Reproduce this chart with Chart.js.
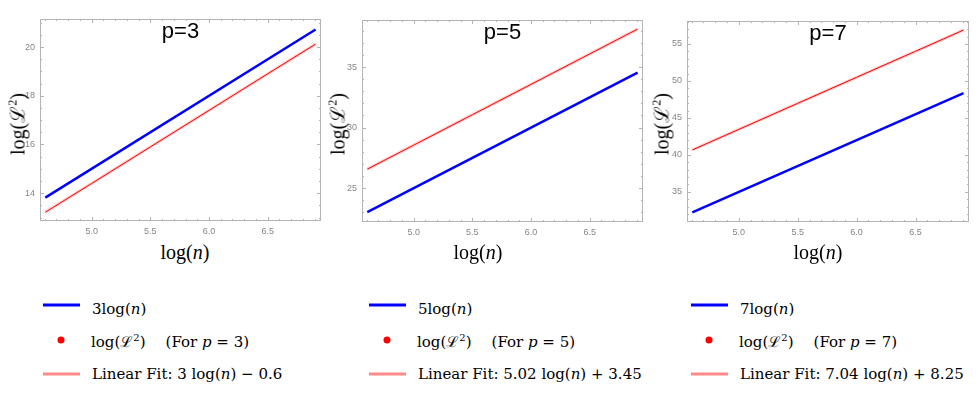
<!DOCTYPE html>
<html>
<head>
<meta charset="utf-8">
<script src="https://cdn.jsdelivr.net/npm/chart.js@4.4.0/dist/chart.umd.min.js"></script>
<style>
  body { margin: 0; background: #fff; width: 980px; height: 398px; position: relative; overflow: hidden; }
  canvas { position: absolute; top: 0; }
  .t { position: absolute; white-space: nowrap; color: #000; }
  .xt { font: 20px 'Liberation Serif', serif; transform: translateX(-50%); }
  .yt { font: 20px 'Liberation Serif', serif; transform: translate(-50%, -50%) rotate(-90deg); }
  .lg { font: 15px 'DejaVu Serif', serif; line-height: 20px; transform: translateY(-50%); }
  .gap { display: inline-block; width: 20px; }
  .line { position: absolute; height: 3px; transform: translateY(-50%); }
  .dot { position: absolute; width: 7px; height: 7px; border-radius: 50%; background: #ff0000; transform: translate(-50%, -50%); }
</style>
</head>
<body>
<canvas id="c1"></canvas>
<canvas id="c2"></canvas>
<canvas id="c3"></canvas>
<div id="labels"></div>
<script>
// data
const xTicks = [5.0, 5.5, 6.0, 6.5];
const xRange = [4.56, 6.954];
const lineX = [4.605, 6.908];
const pointX = [4.605, 5.0, 5.5, 6.0, 6.5, 6.908];

const yTicks3 = [14, 16, 18, 20];
const yTicks5 = [25, 30, 35];
const yTicks7 = [35, 40, 45, 50, 55];

const blue3 = [13.82, 20.72];
const blue5 = [23.03, 34.54];
const blue7 = [32.24, 48.36];

const points3 = [13.22, 14.4, 15.9, 17.4, 18.9, 20.12];
const points5 = [26.57, 28.55, 31.06, 33.57, 36.08, 38.13];
const points7 = [40.67, 43.45, 46.97, 50.49, 54.01, 56.88];

const fit3 = [13.22, 20.12];
const fit5 = [26.57, 38.13];
const fit7 = [40.67, 56.88];

const BLUE = '#0000ff';
const RED = '#ff0000';
const PINK = '#ff8a8a';

// frame with inward ticks on all four sides + title inside the plot
const framePlugin = {
  id: 'frame',
  beforeDatasetsDraw(chart, args, opts) {
    const { ctx, chartArea: a, scales: { x, y } } = chart;
    ctx.save();
    ctx.strokeStyle = '#b4b4b4';
    ctx.lineWidth = 1;
    ctx.strokeRect(a.left + 0.5, a.top + 0.5, a.width - 1, a.height - 1);
    ctx.beginPath();
    for (let k = Math.ceil(x.min * 10); k <= x.max * 10; k++) {
      const px = Math.round(x.getPixelForValue(k / 10)) + 0.5;
      const len = k % 5 === 0 ? 4 : 2;
      ctx.moveTo(px, a.bottom); ctx.lineTo(px, a.bottom - len);
      ctx.moveTo(px, a.top); ctx.lineTo(px, a.top + len);
    }
    const step = opts.minor;
    for (let k = Math.ceil(y.min / step); k * step <= y.max; k++) {
      const v = k * step;
      const py = Math.round(y.getPixelForValue(v)) + 0.5;
      const len = Math.abs(v / opts.major - Math.round(v / opts.major)) < 1e-6 ? 4 : 2;
      ctx.moveTo(a.left, py); ctx.lineTo(a.left + len, py);
      ctx.moveTo(a.right, py); ctx.lineTo(a.right - len, py);
    }
    ctx.stroke();
    ctx.restore();
  },
  afterDraw(chart, args, opts) {
    const { ctx, chartArea: a } = chart;
    ctx.save();
    ctx.font = '22px "Liberation Sans", Arial, sans-serif';
    ctx.fillStyle = '#000';
    ctx.textAlign = 'center';
    ctx.textBaseline = 'middle';
    ctx.fillText(opts.title, (a.left + a.right) / 2, a.top + 13);
    ctx.restore();
  }
};

function makePanel(id, p) {
  const cv = document.getElementById(id);
  cv.width = p.right - p.left + 48;
  cv.height = 240;
  cv.style.left = (p.left - 40) + 'px';
  const tickFont = { family: 'Liberation Sans', size: 9 };
  new Chart(cv, {
    type: 'scatter',
    data: {
      datasets: [
        { data: lineX.map((v, i) => ({ x: v, y: p.blue[i] })), showLine: true, borderColor: BLUE, borderWidth: 2.5, pointRadius: 0, order: 0 },
        { data: pointX.map((v, i) => ({ x: v, y: p.points[i] })), showLine: true, borderColor: RED, borderWidth: 1, pointRadius: 0, order: 1 },
        { data: lineX.map((v, i) => ({ x: v, y: p.fit[i] })), showLine: true, borderColor: 'rgba(255,140,140,0.45)', borderWidth: 3, pointRadius: 0, order: 2 }
      ]
    },
    options: {
      responsive: false,
      animation: false,
      devicePixelRatio: 1,
      layout: { padding: { top: p.top, right: 8, left: 0, bottom: 0 } },
      plugins: {
        legend: { display: false },
        tooltip: { enabled: false },
        frame: { title: p.title, major: p.major, minor: p.minor }
      },
      scales: {
        x: {
          type: 'linear', min: xRange[0], max: xRange[1],
          afterFit: s => { s.height = 240 - p.bottom; },
          afterBuildTicks: s => { s.ticks = xTicks.map(v => ({ value: v })); },
          grid: { display: false, drawTicks: false },
          border: { display: false },
          ticks: { font: tickFont, color: '#858585', padding: 5, maxRotation: 0, callback: v => v.toFixed(1) }
        },
        y: {
          type: 'linear', min: p.yRange[0], max: p.yRange[1],
          afterFit: s => { s.width = 40; },
          afterBuildTicks: s => { s.ticks = p.yTicks.map(v => ({ value: v })); },
          grid: { display: false, drawTicks: false },
          border: { display: false },
          ticks: { font: tickFont, color: '#858585', padding: 5 }
        }
      }
    },
    plugins: [framePlugin]
  });
}

makePanel('c1', { left: 40, right: 321, top: 19, bottom: 221, title: 'p=3', yRange: [12.86, 21.15], yTicks: yTicks3, major: 2, minor: 0.5, blue: blue3, points: points3, fit: fit3 });
makePanel('c2', { left: 362, right: 643, top: 20, bottom: 222, title: 'p=5', yRange: [22.21, 38.88], yTicks: yTicks5, major: 5, minor: 1, blue: blue5, points: points5, fit: fit5 });
makePanel('c3', { left: 687, right: 969, top: 21, bottom: 222, title: 'p=7', yRange: [30.93, 58.1], yTicks: yTicks7, major: 5, minor: 1, blue: blue7, points: points7, fit: fit7 });

// axis titles and legends
const labels = document.getElementById('labels');
function add(cls, x, y, html, extra) {
  const d = document.createElement('div');
  d.className = cls;
  d.style.left = x + 'px';
  d.style.top = y + 'px';
  if (extra) Object.assign(d.style, extra);
  d.innerHTML = html;
  labels.appendChild(d);
}
const xTitle = 'log(<i>n</i>)';
const yTitle = 'log(ℒ<sup style="font-size:12px">2</sup>)';
const legendCols = [
  { x: 43, k: '3', fit: '3 log(<i>n</i>) − 0.6', xt: 185, yt: 17 },
  { x: 369, k: '5', fit: '5.02 log(<i>n</i>) + 3.45', xt: 478, yt: 337 },
  { x: 691, k: '7', fit: '7.04 log(<i>n</i>) + 8.25', xt: 818, yt: 661 }
];
legendCols.forEach(c => {
  add('t xt', c.xt, 241, xTitle);
  add('t yt', c.yt, 124, yTitle);
  add('line', c.x, 305, '', { width: '37px', background: BLUE });
  add('dot', c.x + 18, 340, '');
  add('line', c.x, 374, '', { width: '37px', background: PINK });
  add('t lg', c.x + 49, 309, c.k + 'log(<i>n</i>)');
  add('t lg', c.x + 48, 340, 'log(ℒ<sup style="font-size:10px">2</sup>)<span class="gap"></span>(For <i>p</i> = ' + c.k + ')');
  add('t lg', c.x + 49, 374, 'Linear Fit: ' + c.fit);
});
</script>
</body>
</html>
